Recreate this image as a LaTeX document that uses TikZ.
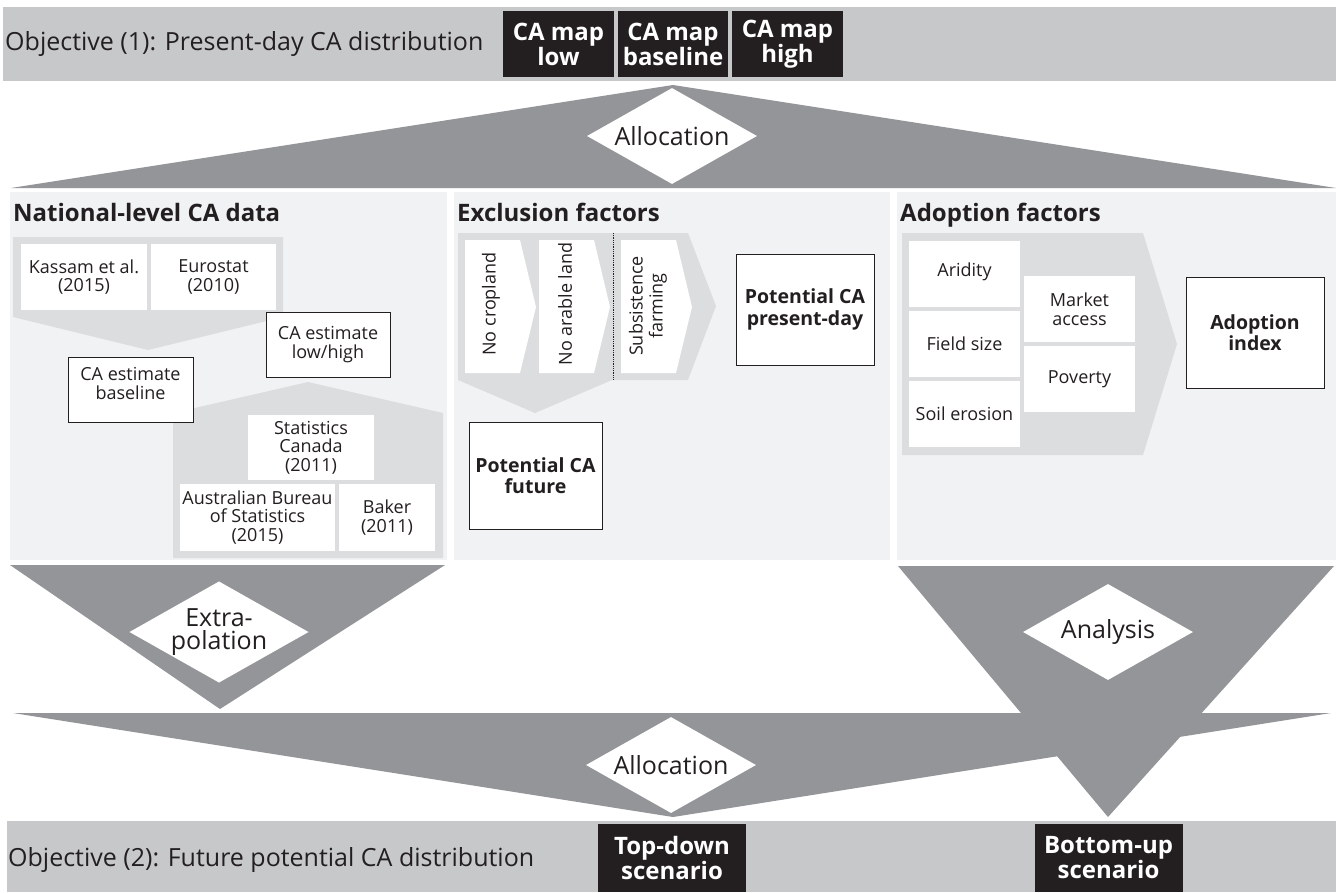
\documentclass[tikz,border=0pt]{standalone}
\usepackage{fontspec}
\setmainfont{Open Sans}
\usepackage{tikz}
\usetikzlibrary{shapes.geometric}
\definecolor{bandgray}{HTML}{C7C8CA}
\definecolor{arrowgray}{HTML}{939598}
\definecolor{panelgray}{HTML}{F1F2F3}
\definecolor{innergray}{HTML}{DCDDDF}
\definecolor{ink}{HTML}{231F20}
\newcommand\txtbig{\fontsize{25}{23}\selectfont}
\newcommand\txtblack{\bfseries\fontsize{24}{23}\selectfont}
\newcommand\txtsmall{\fontsize{18}{18.5}\selectfont}
\newcommand\txtmid{\bfseries\fontsize{19.5}{21.5}\selectfont}
\newcommand\lowered[1]{\rule[-#1]{0pt}{0pt}}

\begin{document}
\begin{tikzpicture}[x=1pt,y=-1pt,
    every node/.style={text=ink,inner sep=0pt,align=center},
    mapbox/.style={fill=ink,text=white,font=\txtblack,minimum height=66},
    scenbox/.style={fill=ink,text=white,font=\txtblack,minimum width=148,minimum height=68},
    factor/.style={fill=white,font=\txtsmall,minimum height=66},
    estimate/.style={fill=white,draw=ink,line width=0.8pt,font=\txtsmall,minimum width=125,minimum height=65},
    result/.style={fill=white,draw=ink,line width=0.8pt,font=\txtmid},
    rhombus/.style={diamond,fill=white,aspect=1.77,minimum width=170,minimum height=96,font=\txtbig},
    title/.style={anchor=base west,font=\bfseries\fontsize{24}{26}\selectfont}]
  \useasboundingbox[fill=white] (0,0) rectangle (1336,892);

  % objective 1
  \fill[bandgray] (3,7) rectangle (1336,81);
  \node[anchor=west,font=\txtbig] (obj1) at (5,44) {Objective (1): Present-day CA distribution};
  \node[mapbox,minimum width=111] (maplow) at (558.5,44) {CA map\\low};
  \node[mapbox,minimum width=110] (mapbase) at (673,44) {CA map\\baseline};
  \node[mapbox,minimum width=111] (maphigh) at (787.5,44) {CA map\\high};

  \fill[arrowgray] (673,85) -- (1336,188) -- (11,188) -- cycle;
  \node[rhombus] (alloc1) at (672,136) {Allocation};

  % panels
  \fill[panelgray] (10,192) rectangle (447,560);
  \fill[panelgray] (454,192) rectangle (890,560);
  \fill[panelgray] (897,192) rectangle (1336,560);

  % national-level data
  \node[title] (natdata) at (13,221) {National-level CA data};
  \fill[innergray] (13,237) -- (283,237) -- (283,317) -- (148,350) -- (13,317) -- cycle;
  \fill[innergray] (173,558) -- (173,413) -- (308,382) -- (443,413) -- (443,558) -- cycle;
  \node[factor,minimum width=126] (kassam) at (84,277) {Kassam et al.\\(2015)};
  \node[factor,minimum width=125] (eurostat) at (213.5,277) {Eurostat\\(2010)};
  \node[estimate] (estbase) at (130.5,389.5) {CA estimate\\baseline\lowered{12pt}};
  \node[estimate,minimum width=124] (estlowhigh) at (328,344.5) {CA estimate\\low/high};
  \node[factor,minimum width=126,minimum height=65] (statcan) at (311,447.5) {Statistics\\Canada\\(2011)};
  \node[factor,minimum width=155,minimum height=67] (abs) at (257.5,517.5) {Australian Bureau\\of Statistics\\(2015)};
  \node[factor,minimum width=96,minimum height=67] (baker) at (387,517.5) {Baker\\(2011)};

  % exclusion factors
  \node[title] (exclusion) at (457,221) {Exclusion factors};
  \fill[innergray] (458,233) -- (688,233) -- (716,306) -- (688,380) -- (612,380)
    -- (535,413) -- (458,380) -- cycle;
  \fill[white] (465,240) -- (520,240) -- (536,307) -- (520,373) -- (465,373) -- cycle;
  \fill[white] (539,240) -- (594,240) -- (610,307) -- (594,373) -- (539,373) -- cycle;
  \fill[white] (621,240) -- (676,240) -- (692,307) -- (676,373) -- (621,373) -- cycle;
  \draw[ink,densely dotted,line width=0.8pt] (613,233) -- (613,380);
  \node[rotate=90,font=\txtsmall] (nocrop) at (491,304) {No cropland};
  \node[rotate=90,font=\txtsmall] (noarable) at (565,304) {No arable land};
  \node[rotate=90,font=\fontsize{18}{20}\selectfont] (subsist) at (648,306) {Subsistence\\farming};
  \node[result,minimum width=138,minimum height=111] (potpresent) at (805,309.5) {Potential CA\\present-day};
  \node[result,minimum width=133,minimum height=107] (potfuture) at (535.5,475.5) {Potential CA\\future};

  % adoption factors
  \node[title] (adoption) at (900,221) {Adoption factors};
  \fill[innergray] (902,233) -- (1143,233) -- (1177,344) -- (1143,455) -- (902,455) -- cycle;
  \node[factor,minimum width=111] (aridity) at (964.5,274) {Aridity\lowered{8pt}};
  \node[factor,minimum width=111] (fieldsize) at (964.5,344) {Field size};
  \node[factor,minimum width=111] (soil) at (964.5,414) {Soil erosion};
  \node[factor,minimum width=111] (market) at (1079.5,309) {Market\\access};
  \node[factor,minimum width=111] (poverty) at (1079.5,379) {Poverty\lowered{4pt}};
  \node[result,minimum width=138,minimum height=111] (adindex) at (1255,332.5) {Adoption\\index};

  % lower arrows
  \fill[arrowgray] (10,565) -- (445,565) -- (220,709) -- cycle;
  \fill[arrowgray] (898,566) -- (1334,566) -- (1108,817) -- cycle;
  \fill[arrowgray] (13,713) -- (1331,713) -- (673,817) -- cycle;
  \node[rhombus] (extrapol) at (219,632) {Extra-\\polation};
  \node[rhombus] (analysis) at (1108,632) {Analysis};
  \node[rhombus] (alloc2) at (671,765) {Allocation};

  % objective 2
  \fill[bandgray] (7,821) rectangle (1336,892);
  \node[anchor=west,font=\txtbig] (obj2) at (8,860) {Objective (2): Future potential CA distribution};
  \node[scenbox] (topdown) at (672,858) {Top-down\\scenario};
  \node[scenbox] (bottomup) at (1108.5,858) {Bottom-up\\scenario};
\end{tikzpicture}
\end{document}
